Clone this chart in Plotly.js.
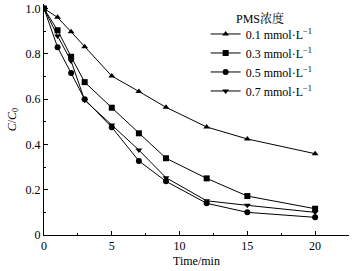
<!DOCTYPE html>
<html>
<head>
<meta charset="utf-8">
<script src="https://cdn.plot.ly/plotly-3.0.1.min.js"></script>
<style>html,body{margin:0;padding:0;background:#fff;}#chart{width:360px;height:271px;}</style>
</head>
<body>
<div id="chart"></div>
<script>
var time = [0, 1, 2, 3, 5, 7, 9, 12, 15, 20];
var seriesNames = ['0.1 mmol·L<sup>−1</sup>', '0.3 mmol·L<sup>−1</sup>', '0.5 mmol·L<sup>−1</sup>', '0.7 mmol·L<sup>−1</sup>'];
var c01 = [1.0, 0.961, 0.897, 0.831, 0.702, 0.634, 0.564, 0.477, 0.424, 0.359];
var c03 = [1.0, 0.904, 0.787, 0.675, 0.562, 0.449, 0.339, 0.250, 0.172, 0.116];
var c05 = [1.0, 0.829, 0.715, 0.599, 0.476, 0.327, 0.237, 0.140, 0.100, 0.078];
var c07 = [1.0, 0.879, 0.768, 0.595, 0.486, 0.375, 0.253, 0.151, 0.131, 0.100];
var symbols = ['triangle-up', 'square', 'circle', 'triangle-down'];
var legendTitle = 'PMS浓度';
var xTitle = 'Time/min';
var yTitle = '<i>C</i>/<i>C</i><sub>0</sub>';

var serif = 'Liberation Serif, Times New Roman, Noto Serif CJK SC, Noto Sans CJK SC, serif';
var allY = [c01, c03, c05, c07];
var traces = allY.map(function (ys, i) {
  return {
    x: time, y: ys, name: seriesNames[i], type: 'scatter', mode: 'lines+markers',
    line: {color: '#000', width: 1},
    marker: {symbol: symbols[i], size: 6, color: '#000'}
  };
});

var axisCommon = {
  showline: true, linecolor: '#000', linewidth: 1, mirror: false,
  showgrid: false, zeroline: false,
  ticks: 'inside', ticklen: 4, tickcolor: '#000', tickwidth: 1,
  tickfont: {family: serif, size: 12, color: '#000'}
};

var layout = {
  width: 360, height: 271,
  margin: {l: 44, r: 11, t: 4, b: 36},
  paper_bgcolor: '#fff', plot_bgcolor: '#fff',
  font: {family: serif, color: '#000', size: 12},
  showlegend: true,
  legend: {
    x: 0.53, y: 0.933, xanchor: 'left', yanchor: 'top',
    bgcolor: 'rgba(0,0,0,0)',
    font: {family: serif, size: 12, color: '#000'},
    tracegroupgap: 0
  },
  annotations: [{
    text: legendTitle, xref: 'paper', yref: 'paper', x: 0.708, y: 0.937,
    xanchor: 'center', yanchor: 'middle', showarrow: false,
    font: {family: serif, size: 12, color: '#000'}
  }],
  xaxis: Object.assign({}, axisCommon, {
    range: [0, 22.5], tick0: 0, dtick: 5,
    minor: {ticks: 'inside', ticklen: 2, tickcolor: '#000', dtick: 2.5, tick0: 0},
    title: {text: xTitle, font: {family: serif, size: 12, color: '#000'}, standoff: 4}
  }),
  yaxis: Object.assign({}, axisCommon, {
    range: [0, 1.02],
    tickvals: [0, 0.2, 0.4, 0.6, 0.8, 1.0], ticktext: ['0', '0.2', '0.4', '0.6', '0.8', '1.0'],
    minor: {ticks: 'inside', ticklen: 2, tickcolor: '#000', dtick: 0.1, tick0: 0},
    title: {text: yTitle, font: {family: serif, size: 12, color: '#000'}, standoff: 6}
  })
};

Plotly.newPlot('chart', traces, layout, {displayModeBar: false, staticPlot: true});
</script>
</body>
</html>
